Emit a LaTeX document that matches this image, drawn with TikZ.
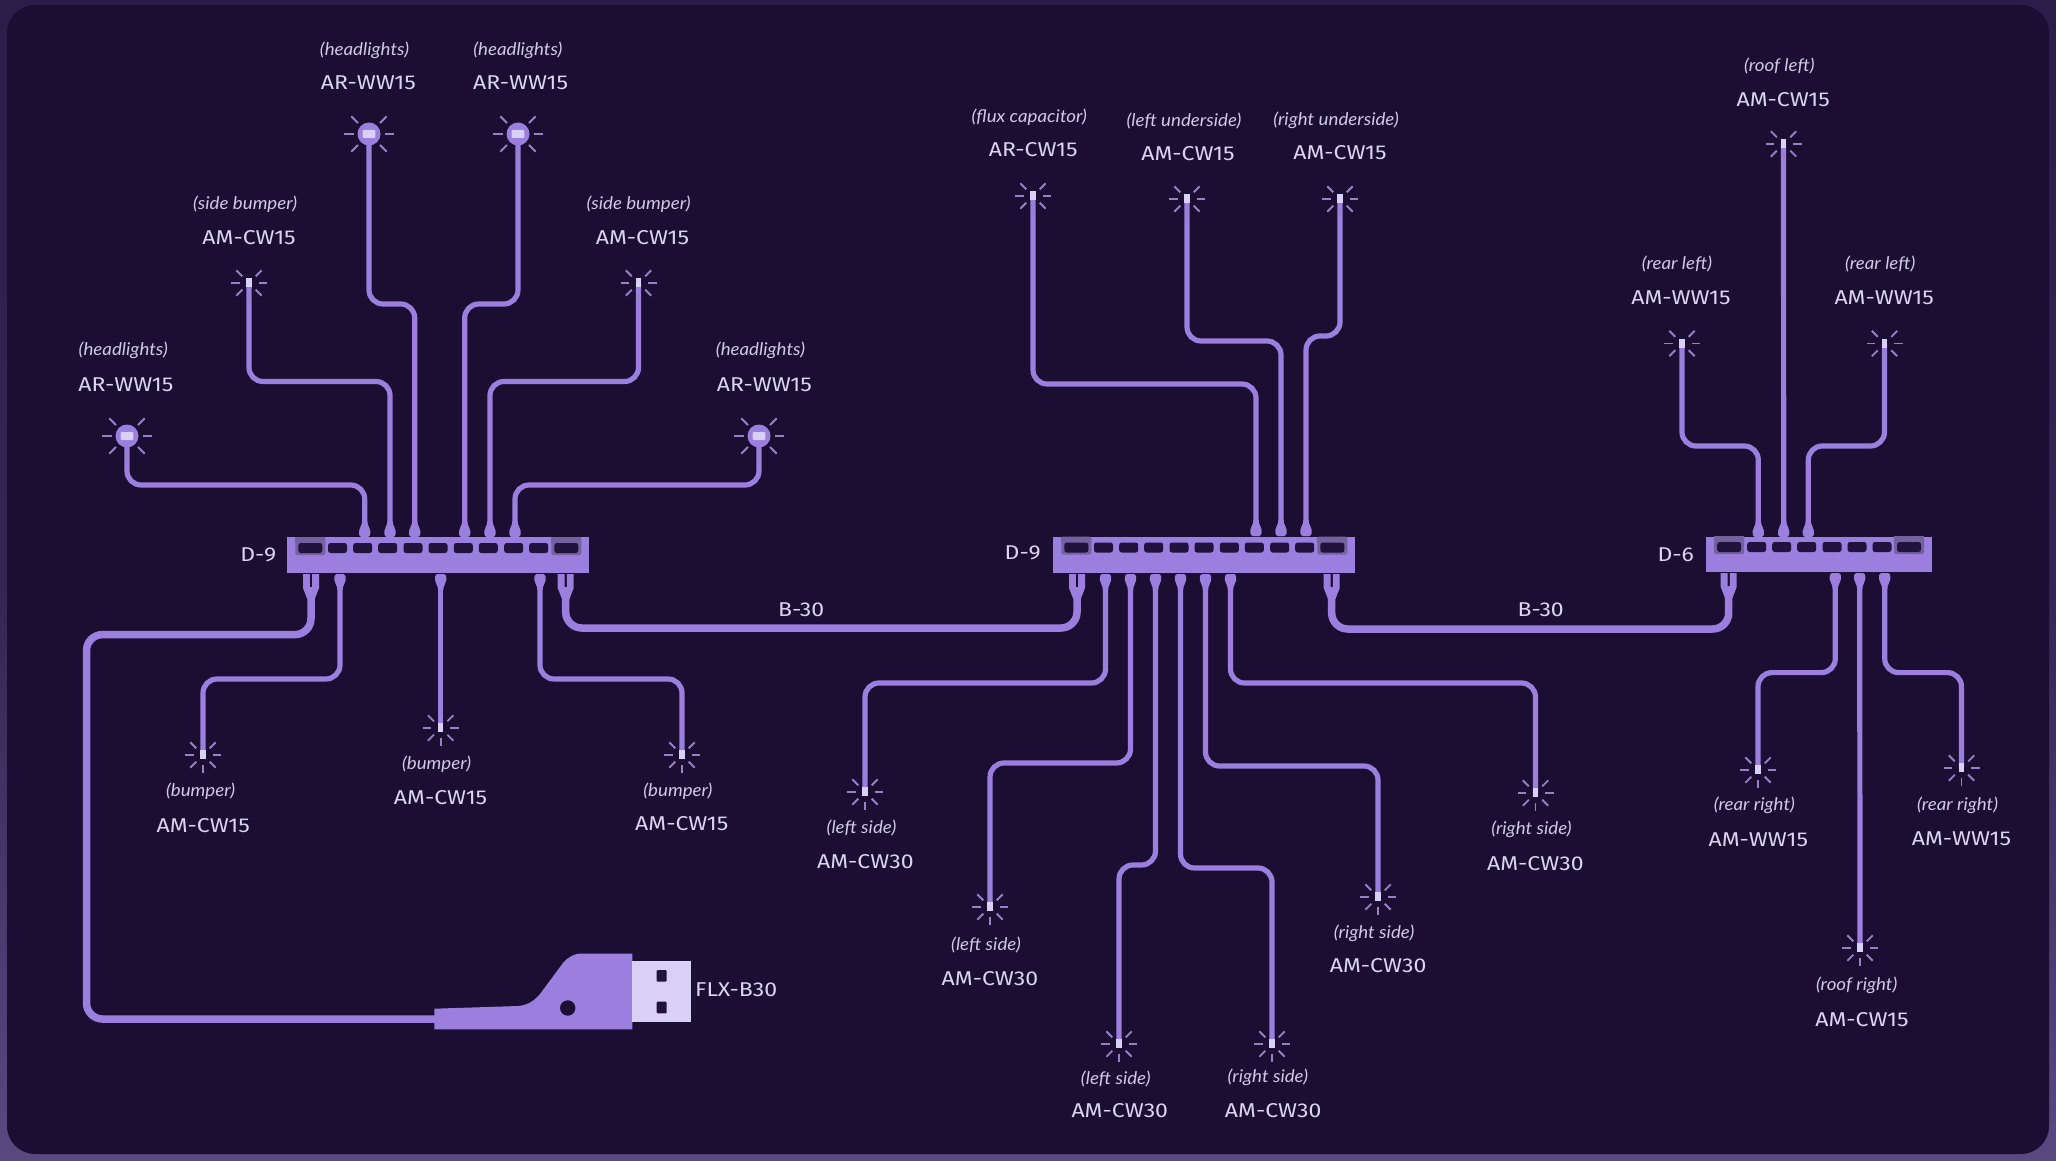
\documentclass[tikz,border=0pt]{standalone}
\usepackage{fontspec}
\newfontfamily\namefont[FakeStretch=1.15]{Fira Sans}
\newfontfamily\notefont[FakeStretch=1.07]{Lato}
\usetikzlibrary{calc}
\definecolor{outertop}{HTML}{2B1C49}
\definecolor{outerbot}{HTML}{5A4880}
\definecolor{panelbg}{HTML}{1C0E33}
\definecolor{wirec}{HTML}{9B7EDE}
\definecolor{rayc}{HTML}{9481C6}
\definecolor{chipc}{HTML}{D9D0F5}
\definecolor{slotc}{HTML}{22123E}
\definecolor{glowc}{HTML}{74619F}
\definecolor{namec}{HTML}{DAD5EE}
\definecolor{notec}{HTML}{CFC9E4}
\tikzset{
  x=1pt,y=-1pt,
  wire/.style={draw=wirec,line width=5.2pt,rounded corners=14pt},
  thickwire/.style={draw=wirec,line width=7.5pt,rounded corners=16pt},
  ray/.style={draw=rayc,line width=1.8pt},
  hubbox/.style={fill=wirec,draw=none,inner sep=0pt,minimum height=36pt},
  partname/.style={text=namec,inner sep=0pt,font=\namefont\fontsize{20}{24}\selectfont},
  partnote/.style={text=notec,inner sep=0pt,font=\notefont\itshape\fontsize{17.5}{20}\selectfont},
}
\newcommand\zwire[3]{\draw[wire] (#1) -- (#1 |- 0,#3) -- (#2 |- 0,#3) -- (#2);}
\newcommand\tplug[2]{\fill[wirec,shift={(#1)},yscale=#2] (-3.5,0) .. controls (-5.6,0) and (-5.9,-3) .. (-5.7,-6) .. controls (-5.4,-10) and (-2.6,-11) .. (-2.6,-16) -- (2.6,-16) .. controls (2.6,-11) and (5.4,-10) .. (5.7,-6) .. controls (5.9,-3) and (5.6,0) .. (3.5,0) -- cycle;}
\newcommand\forkplug[1]{\fill[wirec,shift={(#1)}] (-8,1) -- (-1.2,1) -- (-1.2,14) -- (1.2,14) -- (1.2,1) -- (8,1) -- (8,15) -- (3.75,26) -- (-3.75,26) -- (-8,15) -- cycle;}
\newcommand\slotbox[2]{\fill[slotc,rounded corners=2.5pt] (#1-9.5,#2) rectangle (#1+9.5,#2+10);}
\newcommand\bigslotbox[2]{\fill[glowc,rounded corners=2pt] (#1-15,#2-6) rectangle (#1+15,#2+12);\fill[glowc] (#1-15,#2-6) rectangle (#1+15,#2);\fill[slotc,rounded corners=2.5pt] (#1-12,#2) rectangle (#1+12,#2+10);}
\newcommand\raysat[3]{\foreach \a in {0,45,135,180,225,270,315} {\draw[ray] ($(#1)+(\a:#2 and -#2)$) -- ($(#1)+(\a:#3 and -#3)$);}}
\newcommand\bigled[1]{\raysat{#1}{15.5}{25}\fill[wirec] (#1) circle[radius=11.5];\fill[chipc,rounded corners=1pt] ($(#1)+(-6.3,-4)$) rectangle ($(#1)+(6.3,4)$);}
\newcommand\smallled[1]{\raysat{#1}{9.5}{18}\fill[chipc] ($(#1)+(-2.6,-5)$) rectangle ($(#1)+(2.6,4)$);}
\newcommand\nm[4]{\node[partname] (#1) at (#2,#3) {#4};}
\newcommand\nt[4]{\node[partnote] (#1) at (#2,#3) {(#4)};}
\begin{document}
\begin{tikzpicture}
\useasboundingbox (0,0) rectangle (2056,1161);
\shade[top color=outertop,bottom color=outerbot,middle color=outertop!80!outerbot] (0,0) rectangle (2056,1161);
\fill[panelbg,rounded corners=28pt] (7,5) rectangle (2049,1154);
% LED positions
\coordinate (la1) at (127,436);
\coordinate (la2) at (249,283);
\coordinate (la3) at (369,134);
\coordinate (la4) at (518,134);
\coordinate (la5) at (638.5,283);
\coordinate (la6) at (759,436);
\coordinate (la7) at (203,755);
\coordinate (la8) at (440.7,728);
\coordinate (la9) at (682,755);
\coordinate (lb1) at (1033,196);
\coordinate (lb2) at (1187,199);
\coordinate (lb3) at (1340,199);
\coordinate (lb4) at (865,792);
\coordinate (lb5) at (990,907);
\coordinate (lb6) at (1119,1044);
\coordinate (lb7) at (1272,1044);
\coordinate (lb8) at (1378,897);
\coordinate (lb9) at (1535.5,793);
\coordinate (lc1) at (1783.5,144);
\coordinate (lc2) at (1682,343.5);
\coordinate (lc3) at (1884.5,343.5);
\coordinate (lc4) at (1758,770);
\coordinate (lc5) at (1860,948);
\coordinate (lc6) at (1961.5,768);
% hub ports
\coordinate (pa1) at (364.7,537);
\coordinate (pa2) at (390,537);
\coordinate (pa3) at (414.7,537);
\coordinate (pa4) at (464.7,537);
\coordinate (pa5) at (490,537);
\coordinate (pa6) at (515,537);
\coordinate (qa1) at (340,574);
\coordinate (qa2) at (440.7,574);
\coordinate (qa3) at (540,574);
\coordinate (fa1) at (311,573);
\coordinate (fa2) at (565.7,573);
\coordinate (pb1) at (1256,536);
\coordinate (pb2) at (1281,536);
\coordinate (pb3) at (1306,536);
\coordinate (qb1) at (1105.5,574);
\coordinate (qb2) at (1130.5,574);
\coordinate (qb3) at (1155.5,574);
\coordinate (qb4) at (1180.5,574);
\coordinate (qb5) at (1205.5,574);
\coordinate (qb6) at (1230.5,574);
\coordinate (fb1) at (1077,573);
\coordinate (fb2) at (1331.7,573);
\coordinate (pc1) at (1758.3,537);
\coordinate (pc2) at (1783.7,537);
\coordinate (pc3) at (1808.3,537);
\coordinate (qc1) at (1835.3,573);
\coordinate (qc2) at (1859.7,573);
\coordinate (qc3) at (1884.7,573);
\coordinate (fc1) at (1728.7,572);
% fork tails: where the thick cable enters each fork
\coordinate (ta1) at ($(fa1)+(0,25)$);
\coordinate (ta2) at ($(fa2)+(0,25)$);
\coordinate (tb1) at ($(fb1)+(0,25)$);
\coordinate (tb2) at ($(fb2)+(0,25)$);
\coordinate (tc1) at ($(fc1)+(0,25)$);
% hubs
\node[hubbox,minimum width=302pt,anchor=north west] (hub1) at (287,537) {};
\node[hubbox,minimum width=302pt,anchor=north west] (hub2) at (1053,536.5) {};
\node[hubbox,minimum width=226pt,minimum height=35pt,anchor=north west] (hub3) at (1706,536.7) {};
% usb
\coordinate (usbin) at (440,1019);
% wires
\zwire{la1}{pa1}{485}
\zwire{la2}{pa2}{381.5}
\zwire{la3}{pa3}{304}
\zwire{la4}{pa4}{304}
\zwire{la5}{pa5}{381.5}
\zwire{la6}{pa6}{485}
\zwire{qa1}{la7}{679}
\draw[wire] (qa2) -- (la8);
\zwire{qa3}{la9}{679}
\zwire{lb1}{pb1}{384}
\zwire{lb2}{pb2}{341}
\zwire{lb3}{pb3}{336}
\zwire{qb1}{lb4}{683}
\zwire{qb2}{lb5}{763}
\zwire{qb3}{lb6}{865}
\zwire{qb4}{lb7}{868}
\zwire{qb5}{lb8}{766}
\zwire{qb6}{lb9}{683}
\draw[wire] (lc1) -- (pc2);
\zwire{lc2}{pc1}{446}
\zwire{lc3}{pc3}{446}
\zwire{qc1}{lc4}{672.6}
\draw[wire] (qc2) -- (lc5);
\zwire{qc3}{lc6}{672.6}
\draw[thickwire] (ta1) -- (ta1 |- 0,634.6) -- (86.5,634.6) -- (86.5,1019) -- (usbin);
\draw[thickwire] (ta2) -- (ta2 |- 0,628) -- (tb1 |- 0,628) -- (tb1);
\draw[thickwire] (tb2) -- (tb2 |- 0,629) -- (tc1 |- 0,629) -- (tc1);
% plugs
\foreach \p in {pa1,pa2,pa3,pa4,pa5,pa6,pb1,pb2,pb3,pc1,pc2,pc3} {\tplug{\p}{1}}
\foreach \p in {qa1,qa2,qa3,qb1,qb2,qb3,qb4,qb5,qb6,qc1,qc2,qc3} {\tplug{\p}{-1}}
\foreach \p in {fa1,fa2,fb1,fb2,fc1} {\forkplug{\p}}
% slots
\foreach \s in {337.5,362.7,387.7,413,438,463.3,488.3,513.7,538.7} {\slotbox{\s}{543}}
\bigslotbox{310.3}{543}
\bigslotbox{566.3}{543}
\foreach \s in {1103.5,1128.7,1153.7,1179,1204,1229.3,1254.3,1279.7,1304.7} {\slotbox{\s}{542.5}}
\bigslotbox{1076.3}{542.5}
\bigslotbox{1332.3}{542.5}
\foreach \s in {1756.7,1781.7,1806.7,1832,1857,1882} {\slotbox{\s}{542}}
\bigslotbox{1729.2}{542}
\bigslotbox{1909}{542}
% leds
\foreach \l in {la1,la3,la4,la6} {\bigled{\l}}
\foreach \l in {la2,la5,la7,la8,la9,lb1,lb2,lb3,lb4,lb5,lb6,lb7,lb8,lb9,lc1,lc2,lc3,lc4,lc5,lc6} {\smallled{\l}}
% usb plug
\fill[wirec] (434.3,1008.7) -- (518,1006) .. controls (528,1005) and (534,1001) .. (540,994) -- (563,963) .. controls (568,957) and (574,953.5) .. (582,953.5) -- (632.3,953.5) -- (632.3,1029.3) -- (434.3,1029.3) -- cycle;
\fill[panelbg] (567.7,1008) circle[radius=7.7];
\fill[chipc] (632.3,960.7) rectangle (690.7,1022.3);
\fill[slotc,rounded corners=1pt] (656.7,970) rectangle (666.7,981.7);
\fill[slotc,rounded corners=1pt] (656.7,1001.7) rectangle (666.7,1013.3);
% labels
\nt{t1}{123.3}{350.5}{headlights}\nm{n1}{125.9}{384.6}{AR-WW15}
\nt{t2}{245.2}{204}{side bumper}\nm{n2}{249.1}{237.7}{AM-CW15}
\nt{t3}{364.5}{50.5}{headlights}\nm{n3}{368.4}{83}{AR-WW15}
\nt{t4}{517.9}{50.5}{headlights}\nm{n4}{520.6}{83}{AR-WW15}
\nt{t5}{638.6}{204}{side bumper}\nm{n5}{642.5}{237.7}{AM-CW15}
\nt{t6}{760.5}{350.5}{headlights}\nm{n6}{764.4}{384.6}{AR-WW15}
\nt{t7}{200.6}{791.5}{bumper}\nm{n7}{203.2}{825.2}{AM-CW15}
\nt{t8}{436.6}{764}{bumper}\nm{n8}{440.6}{797.6}{AM-CW15}
\nt{t9}{677.9}{791.5}{bumper}\nm{n9}{681.8}{823.8}{AM-CW15}
\nm{d1}{258.3}{555}{D-9}
\nm{b1}{801.1}{610}{B-30}
\node[partname,anchor=west] (flx) at (695,989.5) {FLX-B30};
\nm{d2}{1022.7}{552.4}{D-9}
\nt{t10}{1029.3}{117.5}{flux capacitor}\nm{n10}{1033.2}{150}{AR-CW15}
\nt{t11}{1184}{121.4}{left underside}\nm{n11}{1188}{153.8}{AM-CW15}
\nt{t12}{1336.1}{120}{right underside}\nm{n12}{1340}{152.6}{AM-CW15}
\nt{t13}{861.5}{828.2}{left side}\nm{n13}{865.4}{862}{AM-CW30}
\nt{t14}{986}{944.8}{left side}\nm{n14}{990}{978.6}{AM-CW30}
\nt{t15}{1115.8}{1078.5}{left side}\nm{n15}{1119.8}{1111}{AM-CW30}
\nt{t16}{1267.9}{1077.3}{right side}\nm{n16}{1273.2}{1111}{AM-CW30}
\nt{t17}{1374.1}{933}{right side}\nm{n17}{1378.1}{965.4}{AM-CW30}
\nt{t18}{1531.5}{829.5}{right side}\nm{n18}{1535.4}{863.2}{AM-CW30}
\nm{b2}{1540.7}{610}{B-30}
\nm{d3}{1675.7}{555}{D-6}
\nt{t19}{1779.3}{66.4}{roof left}\nm{n19}{1783.2}{100}{AM-CW15}
\nt{t20}{1677}{264.3}{rear left}\nm{n20}{1681}{298}{AM-WW15}
\nt{t21}{1880.3}{264.3}{rear left}\nm{n21}{1884.2}{298}{AM-WW15}
\nt{t22}{1754.4}{805.8}{rear right}\nm{n22}{1758.3}{839.6}{AM-WW15}
\nt{t23}{1957.6}{805.8}{rear right}\nm{n23}{1961.5}{838.3}{AM-WW15}
\nt{t24}{1856.7}{985.5}{roof right}\nm{n24}{1862}{1019.2}{AM-CW15}
\end{tikzpicture}
\end{document}
